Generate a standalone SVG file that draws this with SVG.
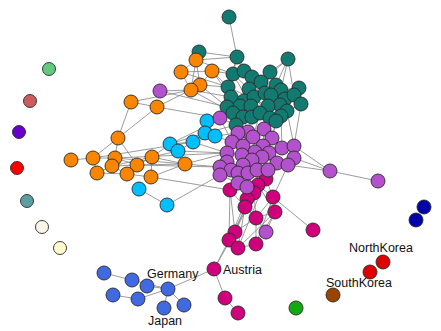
<svg xmlns="http://www.w3.org/2000/svg" width="441" height="331" viewBox="0 0 441 331">
<style>
.e line{stroke:#858585;stroke-width:0.9;stroke-opacity:0.9}
circle{stroke:#2a2a2a;stroke-width:0.9}
.t{fill:#127a70}.o{fill:#fa8500}.p{fill:#b452cd}.c{fill:#00bfff}.m{fill:#d0007c}.b{fill:#4169e1}
text{font-family:"Liberation Sans",Arial,sans-serif;font-size:12.5px;fill:#111}
</style>
<rect width="441" height="331" fill="#fff"/>
<g class="e" id="connectors">
<line x1="229" y1="17" x2="237" y2="57"/><line x1="199" y1="52" x2="237" y2="57"/><line x1="237" y1="57" x2="233" y2="74"/><line x1="237" y1="57" x2="244" y2="71"/><line x1="237" y1="57" x2="252" y2="77"/><line x1="237" y1="57" x2="228" y2="87"/>
<line x1="288" y1="59" x2="270" y2="72"/><line x1="288" y1="59" x2="276" y2="85"/><line x1="288" y1="59" x2="281" y2="90"/><line x1="288" y1="59" x2="261" y2="82"/><line x1="288" y1="59" x2="294" y2="95"/>
<line x1="233" y1="74" x2="244" y2="71"/><line x1="233" y1="74" x2="228" y2="87"/><line x1="233" y1="74" x2="249" y2="89"/><line x1="233" y1="74" x2="231" y2="97"/>
<line x1="244" y1="71" x2="252" y2="77"/><line x1="244" y1="71" x2="261" y2="82"/><line x1="244" y1="71" x2="249" y2="89"/>
<line x1="270" y1="72" x2="261" y2="82"/><line x1="270" y1="72" x2="276" y2="85"/><line x1="270" y1="72" x2="265" y2="93"/>
<line x1="252" y1="77" x2="249" y2="89"/><line x1="252" y1="77" x2="254" y2="97"/><line x1="252" y1="77" x2="261" y2="82"/>
<line x1="261" y1="82" x2="265" y2="93"/><line x1="261" y1="82" x2="271" y2="95"/><line x1="261" y1="82" x2="254" y2="97"/>
<line x1="228" y1="87" x2="231" y2="97"/><line x1="228" y1="87" x2="244" y2="101"/><line x1="228" y1="87" x2="227" y2="107"/>
<line x1="249" y1="89" x2="244" y2="101"/><line x1="249" y1="89" x2="254" y2="97"/><line x1="249" y1="89" x2="240" y2="106"/>
<line x1="276" y1="85" x2="281" y2="90"/><line x1="276" y1="85" x2="271" y2="95"/><line x1="276" y1="85" x2="285" y2="99"/>
<line x1="281" y1="90" x2="299" y2="88"/><line x1="281" y1="90" x2="285" y2="99"/><line x1="281" y1="90" x2="294" y2="95"/>
<line x1="299" y1="88" x2="294" y2="95"/><line x1="299" y1="88" x2="301" y2="104"/>
<line x1="231" y1="97" x2="244" y2="101"/><line x1="231" y1="97" x2="227" y2="107"/><line x1="231" y1="97" x2="233" y2="113"/><line x1="231" y1="97" x2="240" y2="106"/>
<line x1="244" y1="101" x2="240" y2="106"/><line x1="244" y1="101" x2="251" y2="106"/><line x1="254" y1="97" x2="251" y2="106"/><line x1="254" y1="97" x2="265" y2="93"/>
<line x1="265" y1="93" x2="271" y2="95"/><line x1="265" y1="93" x2="268" y2="106"/><line x1="271" y1="95" x2="285" y2="99"/><line x1="271" y1="95" x2="268" y2="106"/><line x1="271" y1="95" x2="280" y2="105"/>
<line x1="285" y1="99" x2="294" y2="95"/><line x1="285" y1="99" x2="287" y2="111"/><line x1="285" y1="99" x2="280" y2="105"/><line x1="294" y1="95" x2="301" y2="104"/><line x1="301" y1="104" x2="287" y2="111"/>
<line x1="227" y1="107" x2="233" y2="113"/><line x1="227" y1="107" x2="236" y2="125"/><line x1="240" y1="106" x2="252" y2="117"/><line x1="240" y1="106" x2="233" y2="113"/>
<line x1="251" y1="106" x2="252" y2="117"/><line x1="251" y1="106" x2="260" y2="113"/><line x1="268" y1="106" x2="260" y2="113"/><line x1="268" y1="106" x2="270" y2="118"/><line x1="268" y1="106" x2="281" y2="116"/>
<line x1="287" y1="111" x2="281" y2="116"/><line x1="287" y1="111" x2="276" y2="121"/><line x1="233" y1="113" x2="236" y2="125"/><line x1="233" y1="113" x2="252" y2="117"/>
<line x1="252" y1="117" x2="260" y2="113"/><line x1="260" y1="113" x2="270" y2="118"/><line x1="270" y1="118" x2="276" y2="121"/><line x1="236" y1="125" x2="252" y2="117"/>
<line x1="233" y1="74" x2="251" y2="106"/><line x1="228" y1="87" x2="268" y2="106"/><line x1="244" y1="71" x2="271" y2="95"/><line x1="249" y1="89" x2="270" y2="118"/><line x1="237" y1="57" x2="254" y2="97"/><line x1="261" y1="82" x2="287" y2="111"/><line x1="231" y1="97" x2="260" y2="113"/><line x1="280" y1="105" x2="276" y2="121"/>
<line x1="243" y1="117" x2="236" y2="125"/><line x1="243" y1="117" x2="252" y2="117"/><line x1="243" y1="117" x2="240" y2="106"/><line x1="254" y1="97" x2="276" y2="121"/><line x1="244" y1="101" x2="281" y2="116"/>
<line x1="196" y1="60" x2="237" y2="57"/><line x1="212" y1="71" x2="233" y2="74"/><line x1="212" y1="71" x2="228" y2="87"/><line x1="200" y1="85" x2="228" y2="87"/><line x1="200" y1="85" x2="227" y2="107"/><line x1="191" y1="90" x2="231" y2="97"/><line x1="191" y1="90" x2="233" y2="113"/><line x1="181" y1="72" x2="228" y2="87"/><line x1="196" y1="60" x2="233" y2="74"/><line x1="212" y1="71" x2="231" y2="97"/>
<line x1="196" y1="60" x2="181" y2="72"/><line x1="196" y1="60" x2="200" y2="85"/><line x1="196" y1="60" x2="191" y2="90"/><line x1="181" y1="72" x2="191" y2="90"/><line x1="181" y1="72" x2="212" y2="71"/><line x1="212" y1="71" x2="200" y2="85"/><line x1="200" y1="85" x2="191" y2="90"/>
<line x1="131" y1="102" x2="118" y2="138"/><line x1="157" y1="107" x2="118" y2="138"/><line x1="131" y1="102" x2="191" y2="90"/><line x1="131" y1="102" x2="157" y2="107"/><line x1="157" y1="107" x2="200" y2="85"/>
<line x1="118" y1="138" x2="93" y2="158"/><line x1="118" y1="138" x2="115" y2="158"/><line x1="118" y1="138" x2="137" y2="165"/><line x1="71" y1="160" x2="93" y2="158"/><line x1="93" y1="158" x2="115" y2="158"/><line x1="93" y1="158" x2="97" y2="173"/>
<line x1="115" y1="158" x2="112" y2="166"/><line x1="115" y1="158" x2="137" y2="165"/><line x1="112" y1="166" x2="97" y2="173"/><line x1="112" y1="166" x2="127" y2="174"/><line x1="137" y1="165" x2="152" y2="157"/><line x1="137" y1="165" x2="127" y2="174"/>
<line x1="152" y1="157" x2="151" y2="177"/><line x1="127" y1="174" x2="151" y2="177"/><line x1="97" y1="173" x2="127" y2="174"/><line x1="112" y1="166" x2="137" y2="165"/><line x1="152" y1="157" x2="170" y2="144"/>
<line x1="137" y1="165" x2="185" y2="164"/><line x1="115" y1="158" x2="185" y2="164"/><line x1="151" y1="177" x2="185" y2="164"/><line x1="152" y1="157" x2="185" y2="164"/><line x1="93" y1="158" x2="193" y2="142"/><line x1="115" y1="158" x2="227" y2="153"/><line x1="137" y1="165" x2="220" y2="167"/><line x1="151" y1="177" x2="230" y2="190"/>
<line x1="185" y1="164" x2="227" y2="153"/><line x1="185" y1="164" x2="220" y2="167"/><line x1="112" y1="166" x2="178" y2="151"/><line x1="157" y1="107" x2="220" y2="118"/><line x1="160" y1="91" x2="191" y2="90"/><line x1="160" y1="91" x2="227" y2="107"/>
<line x1="139" y1="189" x2="167" y2="205"/><line x1="167" y1="205" x2="220" y2="175"/><line x1="207" y1="121" x2="205" y2="133"/><line x1="207" y1="121" x2="215" y2="136"/><line x1="205" y1="133" x2="215" y2="136"/><line x1="170" y1="144" x2="178" y2="151"/><line x1="170" y1="144" x2="193" y2="142"/><line x1="178" y1="151" x2="193" y2="142"/>
<line x1="193" y1="142" x2="205" y2="133"/><line x1="193" y1="142" x2="215" y2="136"/><line x1="207" y1="121" x2="220" y2="118"/><line x1="215" y1="136" x2="232" y2="142"/><line x1="205" y1="133" x2="236" y2="125"/><line x1="170" y1="144" x2="233" y2="113"/><line x1="178" y1="151" x2="227" y2="153"/><line x1="193" y1="142" x2="227" y2="153"/><line x1="207" y1="121" x2="233" y2="113"/><line x1="215" y1="136" x2="238" y2="133"/><line x1="170" y1="144" x2="205" y2="133"/>
<line x1="220" y1="118" x2="236" y2="125"/><line x1="220" y1="118" x2="233" y2="113"/><line x1="220" y1="118" x2="232" y2="142"/>
<line x1="248" y1="132" x2="253" y2="137"/><line x1="248" y1="132" x2="264" y2="129"/><line x1="248" y1="132" x2="238" y2="133"/><line x1="253" y1="137" x2="243" y2="146"/><line x1="253" y1="137" x2="263" y2="146"/><line x1="264" y1="129" x2="272" y2="138"/><line x1="264" y1="129" x2="263" y2="146"/>
<line x1="232" y1="142" x2="243" y2="146"/><line x1="232" y1="142" x2="227" y2="153"/><line x1="232" y1="142" x2="238" y2="133"/><line x1="243" y1="146" x2="242" y2="155"/><line x1="243" y1="146" x2="255" y2="152"/><line x1="255" y1="152" x2="263" y2="146"/><line x1="255" y1="152" x2="252" y2="160"/>
<line x1="263" y1="146" x2="269" y2="153"/><line x1="269" y1="153" x2="282" y2="148"/><line x1="269" y1="153" x2="277" y2="163"/><line x1="282" y1="148" x2="294" y2="146"/><line x1="282" y1="148" x2="294" y2="158"/><line x1="294" y1="146" x2="294" y2="158"/><line x1="294" y1="158" x2="288" y2="165"/><line x1="277" y1="163" x2="288" y2="165"/>
<line x1="227" y1="153" x2="227" y2="162"/><line x1="227" y1="153" x2="242" y2="155"/><line x1="227" y1="162" x2="220" y2="167"/><line x1="227" y1="162" x2="231" y2="170"/><line x1="242" y1="155" x2="252" y2="160"/><line x1="242" y1="155" x2="243" y2="165"/><line x1="252" y1="160" x2="257" y2="170"/>
<line x1="243" y1="165" x2="238" y2="173"/><line x1="243" y1="165" x2="248" y2="173"/><line x1="277" y1="163" x2="268" y2="170"/><line x1="220" y1="167" x2="220" y2="175"/><line x1="231" y1="170" x2="238" y2="173"/><line x1="238" y1="173" x2="248" y2="173"/><line x1="248" y1="173" x2="257" y2="170"/><line x1="257" y1="170" x2="268" y2="170"/>
<line x1="220" y1="175" x2="238" y2="183"/><line x1="238" y1="173" x2="238" y2="183"/><line x1="248" y1="173" x2="247" y2="187"/><line x1="238" y1="183" x2="247" y2="187"/><line x1="272" y1="138" x2="282" y2="148"/><line x1="238" y1="133" x2="243" y2="146"/>
<line x1="330" y1="171" x2="294" y2="158"/><line x1="330" y1="171" x2="288" y2="165"/><line x1="330" y1="171" x2="294" y2="146"/><line x1="330" y1="171" x2="378" y2="181"/>
<line x1="243" y1="146" x2="252" y2="160"/><line x1="252" y1="160" x2="269" y2="153"/><line x1="227" y1="153" x2="231" y2="170"/><line x1="255" y1="152" x2="277" y2="163"/><line x1="263" y1="146" x2="282" y2="148"/><line x1="253" y1="137" x2="255" y2="152"/><line x1="242" y1="155" x2="238" y2="173"/><line x1="252" y1="160" x2="268" y2="170"/>
<line x1="262" y1="157" x2="255" y2="152"/><line x1="262" y1="157" x2="269" y2="153"/><line x1="262" y1="157" x2="257" y2="170"/><line x1="262" y1="157" x2="277" y2="163"/>
<line x1="248" y1="132" x2="252" y2="117"/><line x1="264" y1="129" x2="270" y2="118"/><line x1="253" y1="137" x2="260" y2="113"/><line x1="272" y1="138" x2="276" y2="121"/><line x1="294" y1="146" x2="287" y2="111"/><line x1="282" y1="148" x2="281" y2="116"/><line x1="232" y1="142" x2="233" y2="113"/><line x1="238" y1="133" x2="236" y2="125"/><line x1="248" y1="132" x2="240" y2="106"/><line x1="264" y1="129" x2="268" y2="106"/><line x1="272" y1="138" x2="280" y2="105"/><line x1="294" y1="146" x2="301" y2="104"/>
<line x1="268" y1="170" x2="266" y2="179"/><line x1="257" y1="170" x2="258" y2="185"/><line x1="248" y1="173" x2="254" y2="193"/><line x1="238" y1="183" x2="230" y2="190"/><line x1="247" y1="187" x2="247" y2="199"/><line x1="238" y1="173" x2="230" y2="190"/><line x1="288" y1="165" x2="273" y2="197"/><line x1="277" y1="163" x2="266" y2="179"/><line x1="252" y1="160" x2="258" y2="185"/>
<line x1="266" y1="179" x2="258" y2="185"/><line x1="266" y1="179" x2="273" y2="197"/><line x1="258" y1="185" x2="254" y2="193"/><line x1="254" y1="193" x2="247" y2="199"/><line x1="247" y1="199" x2="245" y2="207"/><line x1="273" y1="197" x2="275" y2="212"/><line x1="245" y1="207" x2="256" y2="218"/><line x1="275" y1="212" x2="256" y2="218"/>
<line x1="258" y1="185" x2="275" y2="212"/><line x1="230" y1="190" x2="235" y2="232"/><line x1="245" y1="207" x2="235" y2="232"/><line x1="247" y1="199" x2="229" y2="240"/><line x1="256" y1="218" x2="235" y2="232"/><line x1="256" y1="218" x2="256" y2="244"/><line x1="275" y1="212" x2="238" y2="248"/>
<line x1="235" y1="232" x2="229" y2="240"/><line x1="229" y1="240" x2="238" y2="248"/><line x1="238" y1="248" x2="256" y2="244"/><line x1="229" y1="240" x2="214" y2="269"/><line x1="235" y1="232" x2="214" y2="269"/><line x1="214" y1="269" x2="225" y2="298"/><line x1="225" y1="298" x2="238" y2="313"/>
<line x1="313" y1="230" x2="258" y2="185"/><line x1="230" y1="190" x2="229" y2="240"/><line x1="254" y1="193" x2="256" y2="218"/><line x1="273" y1="197" x2="256" y2="218"/><line x1="245" y1="207" x2="238" y2="248"/><line x1="254" y1="193" x2="235" y2="232"/><line x1="258" y1="185" x2="229" y2="240"/><line x1="266" y1="179" x2="238" y2="248"/><line x1="273" y1="197" x2="256" y2="244"/>
<line x1="266" y1="232" x2="256" y2="218"/><line x1="266" y1="232" x2="275" y2="212"/><line x1="275" y1="212" x2="256" y2="244"/><line x1="230" y1="190" x2="245" y2="207"/>
<line x1="104" y1="273" x2="132" y2="280"/><line x1="132" y1="280" x2="168" y2="289"/><line x1="147" y1="286" x2="168" y2="289"/><line x1="113" y1="295" x2="138" y2="299"/><line x1="138" y1="299" x2="168" y2="289"/><line x1="168" y1="289" x2="164" y2="308"/><line x1="168" y1="289" x2="184" y2="305"/><line x1="168" y1="289" x2="214" y2="269"/>
</g>
<g id="isolates">
<circle cx="49" cy="69" r="6.5" fill="#63c97f"/>
<circle cx="30" cy="101" r="6.5" fill="#cd5c5c"/>
<circle cx="19" cy="132" r="6.5" fill="#6600cc"/>
<circle cx="17" cy="168" r="6.5" fill="#ff0000"/>
<circle cx="27" cy="201" r="6.5" fill="#5f9ea0"/>
<circle cx="42" cy="227" r="6.5" fill="#fdf5e6"/>
<circle cx="60" cy="248" r="6.5" fill="#fffacd"/>
<circle cx="424" cy="207" r="7" fill="#0000aa"/>
<circle cx="416" cy="220" r="7" fill="#0000aa"/>
<circle cx="296" cy="308" r="7" fill="#11aa11"/>
</g>
<g id="korea">
<circle id="NorthKorea" cx="383" cy="262" r="7" fill="#dd0000"/>
<circle cx="370" cy="272" r="7" fill="#dd0000"/>
<circle id="SouthKorea" cx="333" cy="295" r="7" fill="#994400"/>
</g>
<g id="teal" class="t">
<circle cx="229" cy="17" r="7"/><circle cx="199" cy="52" r="7"/><circle cx="237" cy="57" r="7"/><circle cx="288" cy="59" r="7"/>
<circle cx="233" cy="74" r="7"/><circle cx="244" cy="71" r="7"/><circle cx="270" cy="72" r="7"/><circle cx="252" cy="77" r="7"/><circle cx="261" cy="82" r="7"/>
<circle cx="228" cy="87" r="7"/><circle cx="249" cy="89" r="7"/><circle cx="276" cy="85" r="7"/><circle cx="281" cy="90" r="7"/><circle cx="299" cy="88" r="7"/>
<circle cx="231" cy="97" r="7"/><circle cx="244" cy="101" r="7"/><circle cx="254" cy="97" r="7"/><circle cx="265" cy="93" r="7"/><circle cx="271" cy="95" r="7"/>
<circle cx="285" cy="99" r="7"/><circle cx="294" cy="95" r="7"/><circle cx="301" cy="104" r="7"/><circle cx="280" cy="105" r="7"/>
<circle cx="227" cy="107" r="7"/><circle cx="240" cy="106" r="7"/><circle cx="251" cy="106" r="7"/><circle cx="268" cy="106" r="7"/><circle cx="287" cy="111" r="7"/><circle cx="281" cy="116" r="7"/>
<circle cx="233" cy="113" r="7"/><circle cx="243" cy="117" r="7"/><circle cx="252" cy="117" r="7"/><circle cx="260" cy="113" r="7"/><circle cx="270" cy="118" r="7"/><circle cx="276" cy="121" r="7"/><circle cx="236" cy="125" r="7"/>
</g>
<g id="orange" class="o">
<circle cx="196" cy="60" r="7"/><circle cx="181" cy="72" r="7"/><circle cx="212" cy="71" r="7"/><circle cx="200" cy="85" r="7"/><circle cx="191" cy="90" r="7"/>
<circle cx="131" cy="102" r="7"/><circle cx="157" cy="107" r="7"/><circle cx="118" cy="138" r="7"/><circle cx="71" cy="160" r="7"/><circle cx="93" cy="158" r="7"/>
<circle cx="115" cy="158" r="7"/><circle cx="112" cy="166" r="7"/><circle cx="137" cy="165" r="7"/><circle cx="152" cy="157" r="7"/><circle cx="185" cy="164" r="7"/>
<circle cx="97" cy="173" r="7"/><circle cx="127" cy="174" r="7"/><circle cx="151" cy="177" r="7"/>
</g>
<g id="cyan" class="c">
<circle cx="207" cy="121" r="7"/><circle cx="205" cy="133" r="7"/><circle cx="215" cy="136" r="7"/><circle cx="170" cy="144" r="7"/><circle cx="178" cy="151" r="7"/><circle cx="193" cy="142" r="7"/><circle cx="139" cy="189" r="7"/><circle cx="167" cy="205" r="7"/>
</g>
<g id="magenta" class="m">
<circle cx="266" cy="179" r="7"/><circle cx="258" cy="185" r="7"/><circle cx="230" cy="190" r="7"/><circle cx="254" cy="193" r="7"/><circle cx="247" cy="199" r="7"/><circle cx="273" cy="197" r="7"/>
<circle cx="245" cy="207" r="7"/><circle cx="275" cy="212" r="7"/><circle cx="256" cy="218" r="7"/><circle cx="313" cy="230" r="7"/><circle cx="235" cy="232" r="7"/><circle cx="229" cy="240" r="7"/>
<circle cx="238" cy="248" r="7"/><circle cx="256" cy="244" r="7"/><circle id="Austria" cx="214" cy="269" r="7"/><circle cx="225" cy="298" r="7"/><circle cx="238" cy="313" r="7"/>
</g>
<g id="purple" class="p">
<circle cx="160" cy="91" r="7"/><circle cx="220" cy="118" r="7"/>
<circle cx="248" cy="132" r="7"/><circle cx="264" cy="129" r="7"/><circle cx="238" cy="133" r="7"/><circle cx="253" cy="137" r="7"/><circle cx="272" cy="138" r="7"/>
<circle cx="232" cy="142" r="7"/><circle cx="243" cy="146" r="7"/><circle cx="263" cy="146" r="7"/><circle cx="255" cy="152" r="7"/><circle cx="269" cy="153" r="7"/>
<circle cx="282" cy="148" r="7"/><circle cx="294" cy="146" r="7"/><circle cx="294" cy="158" r="7"/><circle cx="227" cy="153" r="7"/><circle cx="242" cy="155" r="7"/><circle cx="262" cy="157" r="7"/>
<circle cx="227" cy="162" r="7"/><circle cx="252" cy="160" r="7"/><circle cx="243" cy="165" r="7"/><circle cx="277" cy="163" r="7"/><circle cx="288" cy="165" r="7"/>
<circle cx="220" cy="167" r="7"/><circle cx="231" cy="170" r="7"/><circle cx="238" cy="173" r="7"/><circle cx="220" cy="175" r="7"/><circle cx="248" cy="173" r="7"/><circle cx="257" cy="170" r="7"/><circle cx="268" cy="170" r="7"/>
<circle cx="238" cy="183" r="7"/><circle cx="247" cy="187" r="7"/><circle cx="330" cy="171" r="7"/><circle cx="378" cy="181" r="7"/><circle cx="266" cy="232" r="7"/>
</g>
<g id="blue" class="b">
<circle cx="104" cy="273" r="7"/><circle cx="132" cy="280" r="7"/><circle cx="147" cy="286" r="7"/><circle id="Germany" cx="168" cy="289" r="7"/>
<circle cx="113" cy="295" r="7"/><circle cx="138" cy="299" r="7"/><circle id="Japan" cx="164" cy="308" r="7"/><circle cx="184" cy="305" r="7"/>
</g>
<g id="labels">
<text x="147" y="278">Germany</text>
<text x="223" y="273.5">Austria</text>
<text x="148" y="325">Japan</text>
<text x="349" y="252">NorthKorea</text>
<text x="326" y="287">SouthKorea</text>
</g>
</svg>
